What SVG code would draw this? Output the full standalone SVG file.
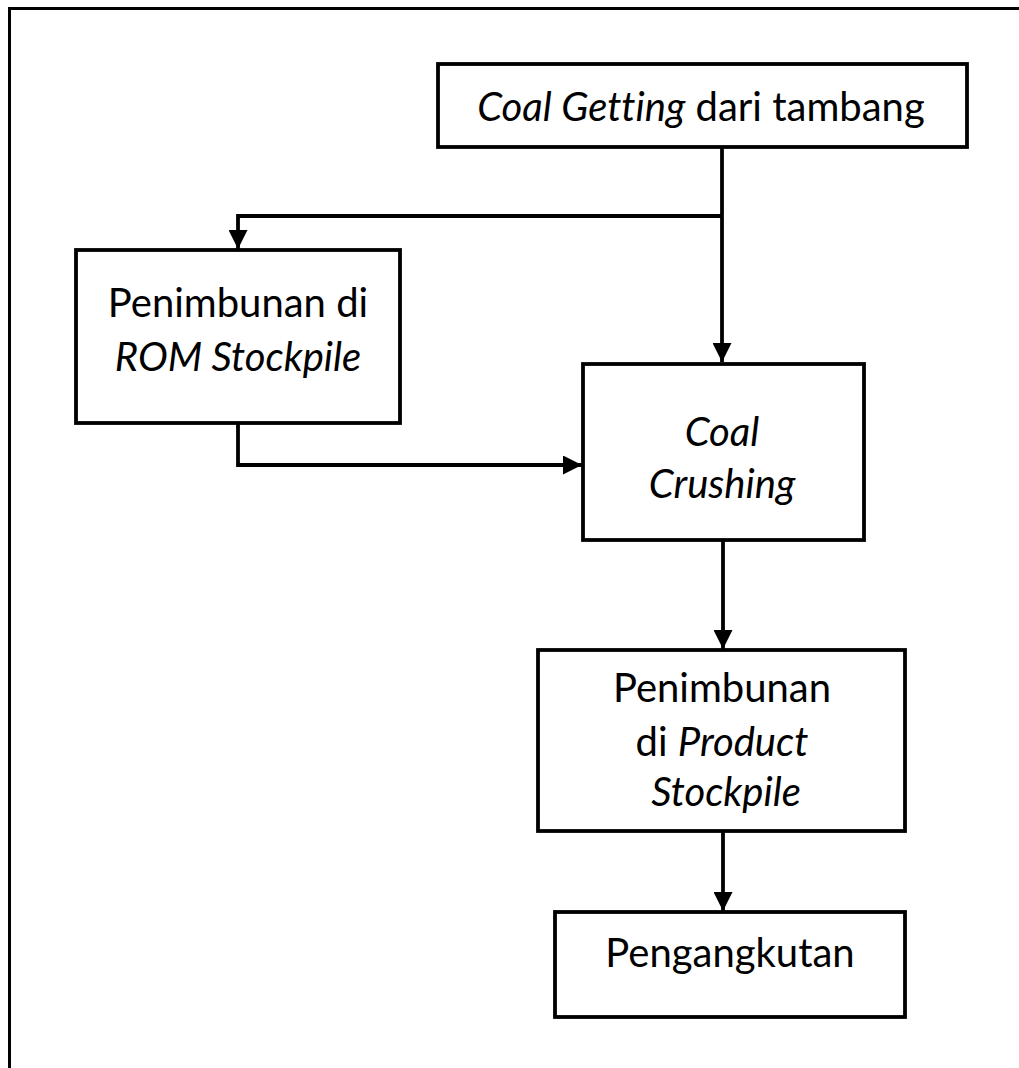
<svg xmlns="http://www.w3.org/2000/svg" width="1019" height="1068" viewBox="0 0 1019 1068">
<style>
.box{fill:#fff;stroke:#000;stroke-width:3.8}
.frame{fill:none;stroke:#000;stroke-width:3}
.lbl{font-family:Lato,"Open Sans","Liberation Sans",sans-serif;font-size:40px;fill:#000;text-anchor:middle;font-variant-ligatures:none}
.it{font-style:italic}
.con{fill:none;stroke:#000;stroke-width:3.8}
</style>
<defs>
<marker id="arr" markerWidth="5" markerHeight="5" refX="5" refY="2.5" orient="auto" markerUnits="strokeWidth">
<path d="M0,0 L5,2.5 L0,5 Z" fill="#000"/>
</marker>
</defs>
<rect width="1019" height="1068" fill="#fff"/>
<path class="frame" d="M9.5,1068 L9.5,8.5 L1019,8.5"/>
<g id="connectors">
<path class="con" d="M722,147 L722,362" marker-end="url(#arr)"/>
<path class="con" d="M722,216 L238,216 L238,249" marker-end="url(#arr)"/>
<path class="con" d="M238,423 L238,465 L582,465" marker-end="url(#arr)"/>
<path class="con" d="M723,540 L723,649" marker-end="url(#arr)"/>
<path class="con" d="M723,831 L723,911" marker-end="url(#arr)"/>
</g>
<g id="coal-getting">
<rect class="box" x="438" y="64" width="529" height="83"/>
<text class="lbl" x="701" y="121"><tspan class="it">Coal Getting</tspan> dari tambang</text>
</g>
<g id="rom-stockpile">
<rect class="box" x="76" y="250" width="324" height="173"/>
<text class="lbl" x="238" y="317">Penimbunan di</text>
<text class="lbl it" x="238" y="371">ROM Stockpile</text>
</g>
<g id="coal-crushing">
<rect class="box" x="583" y="364" width="281" height="176"/>
<text class="lbl it" x="722" y="446">Coal</text>
<text class="lbl it" x="722" y="498">Crushing</text>
</g>
<g id="product-stockpile">
<rect class="box" x="538" y="650" width="367" height="181"/>
<text class="lbl" x="722" y="702">Penimbunan</text>
<text class="lbl" x="722" y="756">di <tspan class="it">Product</tspan></text>
<text class="lbl it" x="726" y="806">Stockpile</text>
</g>
<g id="pengangkutan">
<rect class="box" x="555" y="912" width="350" height="105"/>
<text class="lbl" x="730" y="967">Pengangkutan</text>
</g>
</svg>
